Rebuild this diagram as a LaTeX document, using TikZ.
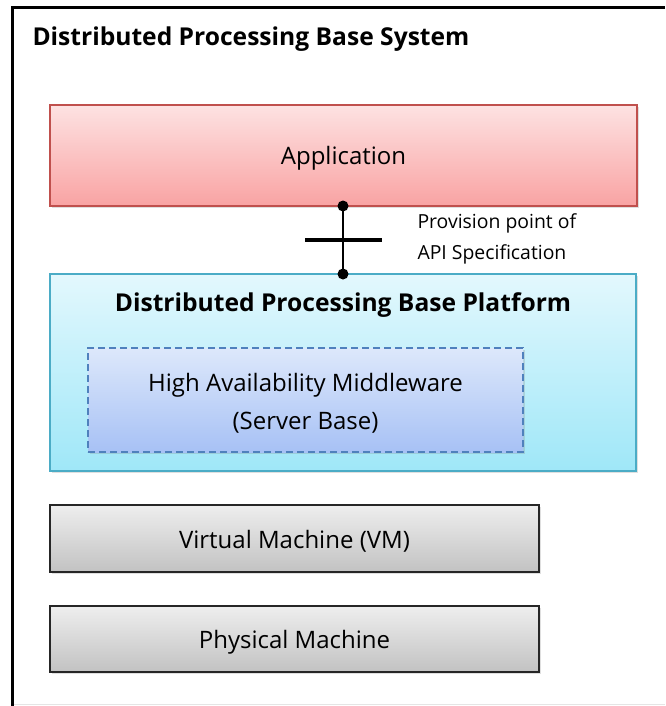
\documentclass[tikz,border=0pt]{standalone}
\usepackage{fontspec}
\setmainfont{Open Sans}
\usetikzlibrary{shadows}
\definecolor{appborder}{HTML}{C0504D}
\definecolor{apptop}{HTML}{FDE2E2}
\definecolor{appbot}{HTML}{F9A3A3}
\definecolor{platborder}{HTML}{4BACC6}
\definecolor{plattop}{HTML}{E3F8FD}
\definecolor{platbot}{HTML}{9FE7F8}
\definecolor{haborder}{HTML}{4F81BD}
\definecolor{hatop}{HTML}{DDE8FB}
\definecolor{habot}{HTML}{A7C1F5}
\definecolor{graytop}{HTML}{EEEEEE}
\definecolor{graybot}{HTML}{C2C2C2}
\tikzset{
  layer/.style={draw, line width=1.5pt, rectangle, inner sep=0pt,
    drop shadow={shadow xshift=1.5pt, shadow yshift=-2pt, opacity=0.25}},
  appbox/.style={layer, draw=appborder, top color=apptop, bottom color=appbot},
  platbox/.style={layer, draw=platborder, top color=plattop, bottom color=platbot},
  habox/.style={layer, draw=haborder, dashed, dash pattern=on 7pt off 4pt, top color=hatop, bottom color=habot},
  graybox/.style={layer, draw=black!85, top color=graytop, bottom color=graybot},
  lbl/.style={font=\fontsize{24}{38}\selectfont, align=center},
  ttl/.style={font=\fontsize{24.6}{28}\selectfont\bfseries, anchor=base},
  dot/.style={circle, fill=black, inner sep=0pt, minimum size=11pt},
}
\begin{document}
\begin{tikzpicture}[x=1pt, y=-1pt]
\useasboundingbox (0,0) rectangle (665,706);
\fill[white] (0,0) rectangle (665,706);
% outer frame
\draw[line width=3pt] (12.5,706) -- (12.5,7.5) -- (665,7.5);
\draw[black!10, line width=1pt] (14,704) -- (665,704);
\node[ttl, anchor=base west] (sys) at (29,46) {Distributed Processing Base System};

% boxes
\node[appbox, minimum width=587pt, minimum height=101pt] (app) at (343.5,155.5) {};
\node[lbl] at ([yshift=-3pt]app.center) {Application};

\node[platbox, minimum width=586pt, minimum height=197pt] (plat) at (343,372.5) {};
\node[ttl] (plattitle) at (343,311) {Distributed Processing Base Platform};

\node[habox, minimum width=435pt, minimum height=104pt] (ha) at (305.5,400) {};
\node[lbl] at ([yshift=-3pt]ha.center) {High Availability Middleware\\(Server Base)};

\node[graybox, minimum width=489pt, minimum height=67pt] (vm) at (294.5,538.5) {};
\node[lbl] at ([yshift=-3pt]vm.center) {Virtual Machine (VM)};

\node[graybox, minimum width=489pt, minimum height=66pt] (pm) at (294.5,639) {};
\node[lbl] at ([yshift=-3pt]pm.center) {Physical Machine};

% API connector
\coordinate (ctop) at (343,206);
\coordinate (cbot) at (343,274);
\draw[line width=2pt] (ctop) -- (cbot);
\node[dot] at (ctop) {};
\node[dot] at (cbot) {};
\coordinate (barl) at (305,240);
\coordinate (barr) at (382,240);
\draw[line width=4pt] (barl) -- (barr);
\node[font=\fontsize{19.4}{31}\selectfont, align=left, anchor=west] (apitxt) at (414,239) {Provision point of\\API Specification};
\end{tikzpicture}
\end{document}
